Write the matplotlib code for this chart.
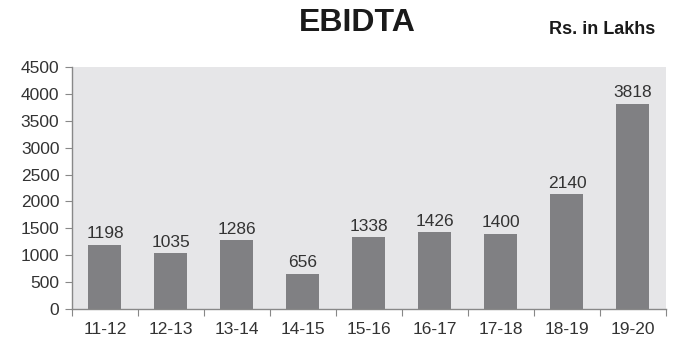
import matplotlib.pyplot as plt

# EBIDTA, Rs. in Lakhs
years = ['11-12', '12-13', '13-14', '14-15', '15-16', '16-17', '17-18', '18-19', '19-20']
ebidta = [1198, 1035, 1286, 656, 1338, 1426, 1400, 2140, 3818]
yticks = [0, 500, 1000, 1500, 2000, 2500, 3000, 3500, 4000, 4500]

plt.rcParams['font.family'] = ['Liberation Sans', 'DejaVu Sans']

fig = plt.figure(figsize=(6.74, 3.45), dpi=100)
ax = fig.add_axes([0.1068, 0.1043, 0.8813, 0.7017])
ax.set_facecolor('#e6e6e8')

x = range(len(years))
ax.bar(x, ebidta, width=0.5, color='#808083', zorder=2)
for xi, v in zip(x, ebidta):
    ax.text(xi, v + 60, str(v), ha='center', va='bottom', fontsize=12.5, color='#333333')

ax.set_xlim(-0.5, len(years) - 0.5)
ax.set_ylim(0, 4500)
ax.set_yticks(yticks)
ax.set_yticklabels([str(t) for t in yticks])

# ticks sit on the category boundaries, labels in the middle
ax.set_xticks([i - 0.5 for i in range(len(years) + 1)])
ax.set_xticklabels([])
ax.set_xticks(list(x), minor=True)
ax.set_xticklabels(years, minor=True)
ax.tick_params(axis='x', which='major', length=5, color='#888888')
ax.tick_params(axis='x', which='minor', length=0, pad=9, labelsize=12.5, labelcolor='#333333')
ax.tick_params(axis='y', length=5, color='#888888', labelsize=12.5, labelcolor='#333333', pad=4)

for s in ['top', 'right']:
    ax.spines[s].set_visible(False)
for s in ['left', 'bottom']:
    ax.spines[s].set_color('#888888')
    ax.spines[s].set_linewidth(1)

fig.text(0.530, 0.933, 'EBIDTA', ha='center', va='center', fontsize=23,
         fontweight='bold', color='#1a1a1a')
fig.text(0.972, 0.914, 'Rs. in Lakhs', ha='right', va='center', fontsize=13,
         fontweight='bold', color='#1a1a1a')

fig.savefig('out.png', dpi=100)
